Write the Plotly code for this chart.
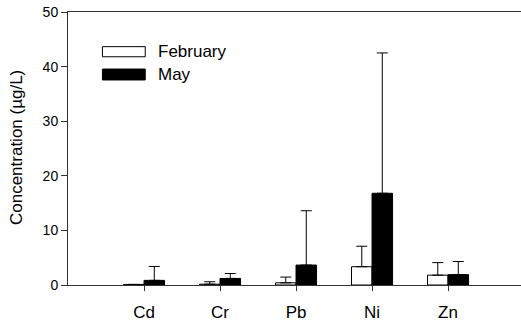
import plotly.graph_objects as go

categories = ["Cd", "Cr", "Pb", "Ni", "Zn"]
feb_values = [0.1, 0.15, 0.4, 3.35, 1.8]
feb_err = [0.0, 0.45, 1.05, 3.75, 2.3]
may_values = [0.85, 1.2, 3.65, 16.8, 1.9]
may_err = [2.55, 0.9, 9.95, 25.7, 2.4]
y_ticks = [0, 10, 20, 30, 40, 50]

fig = go.Figure()
fig.add_trace(go.Bar(
    x=categories, y=feb_values, name="February",
    marker=dict(color="white", line=dict(color="black", width=1)),
    error_y=dict(type="data", array=feb_err, symmetric=False, arrayminus=[0]*5,
                 color="black", thickness=1, width=5.5),
))
fig.add_trace(go.Bar(
    x=categories, y=may_values, name="May",
    marker=dict(color="black", line=dict(color="black", width=1)),
    error_y=dict(type="data", array=may_err, symmetric=False, arrayminus=[0]*5,
                 color="black", thickness=1, width=5.5),
))

font_family = "Liberation Sans, Arial, sans-serif"

fig.update_layout(
    width=521, height=324,
    margin=dict(l=68, r=0, t=12, b=39),
    plot_bgcolor="white", paper_bgcolor="white",
    barmode="group", bargap=0.46, bargroupgap=0,
    showlegend=False,
    font=dict(family=font_family, size=14, color="black"),
    xaxis=dict(
        type="category", range=[-1, 4.96],
        showline=True, linecolor="#333", linewidth=1, mirror=True,
        ticks="outside", ticklen=5, tickcolor="#333",
        ticklabelstandoff=7,
        showgrid=False, zeroline=False,
        tickfont=dict(size=17, family=font_family),
    ),
    yaxis=dict(
        range=[0, 50], tickvals=y_ticks,
        showline=True, linecolor="#333", linewidth=1,
        ticks="outside", ticklen=6, tickcolor="#333",
        showgrid=False, zeroline=False,
        tickfont=dict(size=14, family=font_family),
    ),
)

fig.add_annotation(text="Concentration (µg/L)", xref="paper", yref="paper",
                   x=-0.114, y=0.503, xanchor="center", yanchor="middle",
                   textangle=-90, showarrow=False,
                   font=dict(size=17, family=font_family))

# manual legend
legend_items = [("February", "white", 0.873, 0.836), ("May", "black", 0.791, 0.751)]
for name, color, y1, y0 in legend_items:
    fig.add_shape(type="rect", xref="paper", yref="paper",
                  x0=0.076, x1=0.1705, y0=y0, y1=y1,
                  fillcolor=color, line=dict(color="black", width=1))
    fig.add_annotation(text=name, xref="paper", yref="paper",
                       x=0.194, y=(y0 + y1) / 2, xanchor="left", yanchor="middle",
                       showarrow=False, font=dict(size=17, family=font_family))

fig.write_html("out.html", config={"displayModeBar": False},
               post_script="document.body.style.margin='0';"
                           "document.body.style.overflow='hidden';"
                           "document.documentElement.style.overflow='hidden';")
